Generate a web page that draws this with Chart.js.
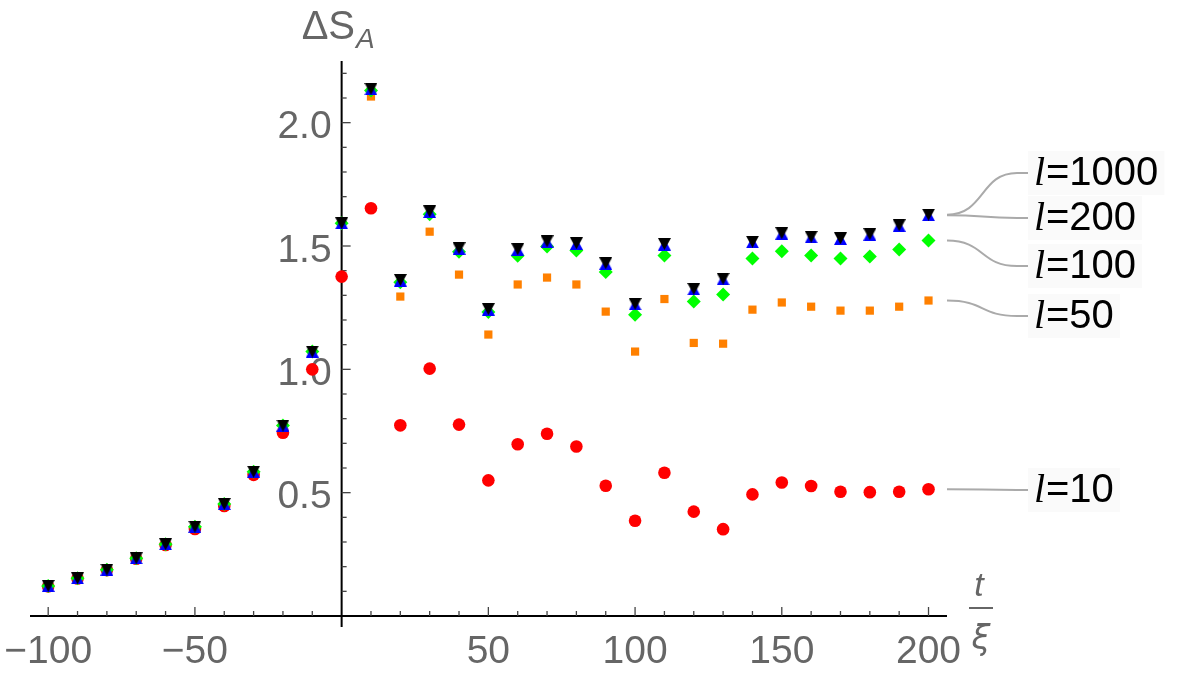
<!DOCTYPE html>
<html><head><meta charset="utf-8">
<script src="https://cdn.jsdelivr.net/npm/chart.js@4.4.1/dist/chart.umd.min.js"></script>
<style>html,body{margin:0;padding:0;background:#fff;overflow:hidden}#wrap{width:1200px;height:673px;position:relative}</style>
</head><body><div id="wrap"><canvas id="c" width="1200" height="673"></canvas></div>
<script>
// ---- data ----
const tValues = [-100,-90,-80,-70,-60,-50,-40,-30,-20,-10,0,10,20,30,40,50,60,70,80,90,100,110,120,130,140,150,160,170,180,190,200];
const s10   = [0.120,0.152,0.186,0.232,0.288,0.353,0.446,0.572,0.743,1.000,1.376,1.653,0.773,1.003,0.776,0.550,0.696,0.739,0.687,0.528,0.386,0.581,0.423,0.352,0.493,0.541,0.527,0.504,0.502,0.504,0.514];
const s50   = [0.125,0.154,0.189,0.235,0.292,0.363,0.455,0.586,0.773,1.072,1.592,2.106,1.295,1.558,1.384,1.141,1.344,1.372,1.344,1.234,1.072,1.285,1.107,1.104,1.242,1.271,1.254,1.238,1.238,1.254,1.279];
const s100  = [0.122,0.153,0.188,0.234,0.291,0.362,0.454,0.585,0.772,1.072,1.592,2.130,1.353,1.629,1.477,1.232,1.460,1.498,1.482,1.395,1.221,1.461,1.275,1.303,1.449,1.479,1.461,1.449,1.457,1.486,1.522];
const s200  = [0.122,0.153,0.188,0.234,0.291,0.362,0.454,0.585,0.772,1.072,1.592,2.135,1.360,1.638,1.489,1.242,1.485,1.517,1.509,1.428,1.263,1.506,1.324,1.365,1.515,1.550,1.535,1.529,1.546,1.582,1.625];
const s1000 = [0.122,0.153,0.188,0.234,0.291,0.362,0.454,0.585,0.772,1.072,1.592,2.137,1.362,1.640,1.491,1.244,1.487,1.519,1.511,1.430,1.265,1.508,1.326,1.367,1.517,1.552,1.537,1.531,1.548,1.584,1.627];
const seriesLabels = ['1000','200','100','50','10'];
const xTickLabels = [-100,-50,50,100,150,200];
const yTickLabels = [0.5,1.0,1.5,2.0];
// label layout (pixel rows for the callout texts)
const calloutRows = [173,218,266,316,490];

function tri(color, down){
  const w=13,h=12,c=document.createElement('canvas');c.width=w;c.height=h;
  const g=c.getContext('2d');g.fillStyle=color;g.beginPath();
  if(down){g.moveTo(0,0);g.lineTo(w,0);g.lineTo(w/2,h);}else{g.moveTo(w/2,0);g.lineTo(w,h);g.lineTo(0,h);}
  g.closePath();g.fill();return c;
}
const pts = a => tValues.map((t,i)=>({x:t,y:a[i]}));

const FONT='"Liberation Sans", Arial, sans-serif';
const mmaPlugin = {
  id:'mma',
  beforeDatasetsDraw(chart){
    const {ctx, scales:{x,y}} = chart;
    const x0=x.getPixelForValue(0), y0=y.getPixelForValue(0);
    ctx.save();
    ctx.strokeStyle='#000';ctx.lineWidth=2;
    ctx.beginPath();ctx.moveTo(x.left,y0);ctx.lineTo(x.right,y0);ctx.stroke();
    ctx.beginPath();ctx.moveTo(x0,y.top);ctx.lineTo(x0,y0+11);ctx.stroke();
    ctx.strokeStyle='#444';ctx.lineWidth=1.3;
    for(let v=-100;v<=200;v+=10){ if(v===0)continue;
      const px=x.getPixelForValue(v), len=(v%50===0)?9:5;
      ctx.beginPath();ctx.moveTo(px,y0);ctx.lineTo(px,y0-len);ctx.stroke();}
    for(let k=1;k<=22;k++){
      const py=y.getPixelForValue(k/10), len=(k%5===0)?9:5;
      ctx.beginPath();ctx.moveTo(x0,py);ctx.lineTo(x0+len,py);ctx.stroke();}
    ctx.fillStyle='#666';ctx.font='39px '+FONT;ctx.textBaseline='alphabetic';
    ctx.textAlign='center';
    xTickLabels.forEach(v=>ctx.fillText((v<0?'\u2212':'')+Math.abs(v),x.getPixelForValue(v),y0+47));
    ctx.textAlign='right';
    yTickLabels.forEach(v=>ctx.fillText(v.toFixed(1),x0-10,y.getPixelForValue(v)+15.5));
    // axis titles
    ctx.textAlign='left';
    ctx.font='40px '+FONT;
    ctx.fillText('\u0394S',x0-40,39);
    const wS=ctx.measureText('\u0394S').width;
    ctx.font='italic 28px '+FONT;
    ctx.fillText('A',x0-40+wS+1,48);
    // t / xi
    const fx=x.right+34;
    ctx.textAlign='center';
    ctx.font='italic 34px '+FONT;
    ctx.fillText('t',fx-2,596);
    ctx.fillRect(fx-12,607,24,2);
    ctx.font='italic 34px "DejaVu Sans", sans-serif';
    ctx.fillText('\u03BE',fx,649);
    ctx.restore();
  },
  afterDatasetsDraw(chart){
    const {ctx, scales:{x,y}} = chart;
    const sets=[s1000,s200,s100,s50,s10];
    ctx.save();
    const xs=x.right, xe=1028;
    sets.forEach((s,i)=>{
      const ys=y.getPixelForValue(s[s.length-1]), ye=calloutRows[i];
      ctx.strokeStyle='#aaa';ctx.lineWidth=2;
      ctx.beginPath();ctx.moveTo(xs,ys);
      ctx.bezierCurveTo(xs+38,ys,xe-48,ye,xe-11,ye);ctx.lineTo(xe,ye);ctx.stroke();
      // label
      ctx.font='40px '+FONT;
      const wRest=ctx.measureText('='+seriesLabels[i]).width;
      ctx.fillStyle='#fafafa';
      ctx.fillRect(xe,ye-22,wRest+24,44);
      ctx.fillStyle='#000';ctx.textAlign='left';ctx.textBaseline='middle';
      ctx.font='italic 40px "Liberation Serif", serif';
      ctx.fillText('l',xe+6,ye+1);
      ctx.font='40px '+FONT;
      ctx.fillText('='+seriesLabels[i],xe+18,ye+1);
    });
    ctx.restore();
  }
};

new Chart(document.getElementById('c'),{
  type:'scatter',
  data:{datasets:[
    {label:'l=1000',data:pts(s1000),pointStyle:tri('#000',true),pointRadius:7,backgroundColor:'#000',borderWidth:0,order:1},
    {label:'l=200',data:pts(s200),pointStyle:tri('#0000ff',false),pointRadius:7,backgroundColor:'#0000ff',borderWidth:0,order:2},
    {label:'l=100',data:pts(s100),pointStyle:'rectRot',pointRadius:7,backgroundColor:'#00ff00',borderWidth:0,order:3},
    {label:'l=50',data:pts(s50),pointStyle:'rect',pointRadius:5.8,backgroundColor:'#ff8000',borderWidth:0,order:4},
    {label:'l=10',data:pts(s10),pointStyle:'circle',pointRadius:6.3,backgroundColor:'#ff0000',borderWidth:0,order:5}
  ]},
  options:{
    responsive:false,animation:false,devicePixelRatio:1,
    layout:{padding:{left:30,right:253,top:61,bottom:57}},
    plugins:{legend:{display:false},tooltip:{enabled:false}},
    scales:{
      x:{type:'linear',min:-106.2,max:206.3,display:false},
      y:{type:'linear',min:0,max:2.25,display:false}
    },
    elements:{point:{hoverRadius:7}}
  },
  plugins:[mmaPlugin]
});
</script></body></html>
